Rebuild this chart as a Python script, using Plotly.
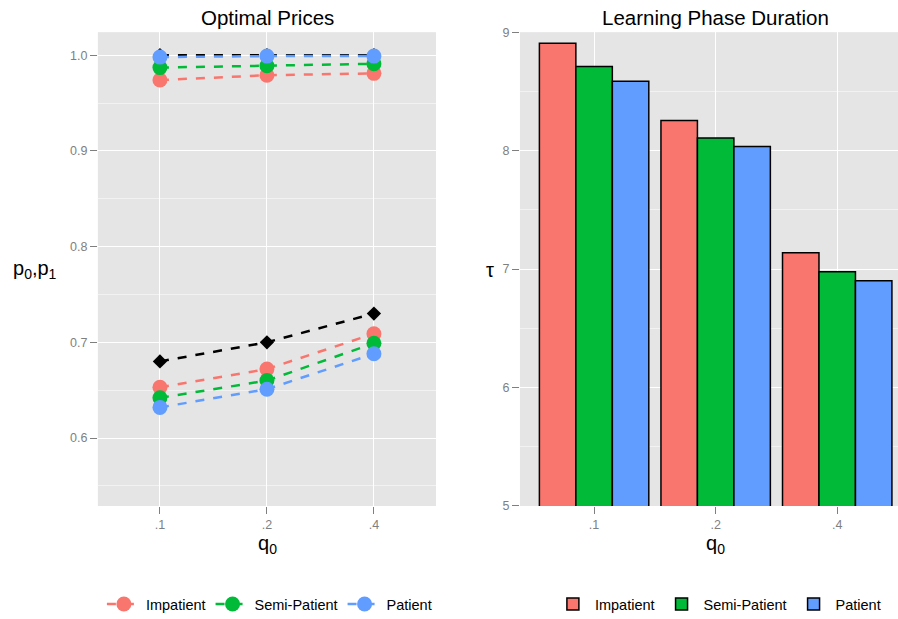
import plotly.graph_objects as go

categories = [".1", ".2", ".4"]
series = ["Impatient", "Semi-Patient", "Patient"]
colors = ["#F8766D", "#00BA38", "#619CFF"]

# Optimal prices (p1 high, p0 low)
p_high = {
    "Impatient": [0.974, 0.979, 0.981],
    "Semi-Patient": [0.987, 0.989, 0.991],
    "Patient": [0.998, 0.999, 0.999],
}
p_low = {
    "Impatient": [0.653, 0.672, 0.709],
    "Semi-Patient": [0.642, 0.660, 0.699],
    "Patient": [0.632, 0.651, 0.688],
}
benchmark_high = [1.0, 1.0, 1.0]
benchmark_low = [0.680, 0.700, 0.730]

# Learning phase duration tau
tau = {
    "Impatient": [8.907, 8.254, 7.138],
    "Semi-Patient": [8.710, 8.107, 6.977],
    "Patient": [8.586, 8.034, 6.901],
}

xpos = list(range(len(categories)))
fig = go.Figure()

# Benchmark black lines
for vals in (benchmark_high, benchmark_low):
    fig.add_trace(go.Scatter(
        x=xpos, y=vals, mode="lines+markers",
        line=dict(color="black", width=2.5, dash="9px,9px"),
        marker=dict(symbol="diamond", size=11, color="black"),
        showlegend=False, xaxis="x", yaxis="y", hoverinfo="skip"))

for s, c in zip(series, colors):
    for i, d in enumerate((p_high, p_low)):
        fig.add_trace(go.Scatter(
            x=xpos, y=d[s], mode="lines+markers", name=s,
            line=dict(color=c, width=2.5, dash="9px,9px"),
            marker=dict(symbol="circle", size=15, color=c),
            showlegend=(i == 0), legendgroup=s, legend="legend",
            xaxis="x", yaxis="y"))

for s, c in zip(series, colors):
    fig.add_trace(go.Bar(
        x=xpos, y=tau[s], name=s,
        marker=dict(color=c, line=dict(color="black", width=1.5)),
        legend="legend2", xaxis="x2", yaxis="y2"))

tickfont = dict(family="Liberation Sans, Arial", size=12.5, color="#7f7f7f")
common_axis = dict(
    showgrid=True, gridcolor="white", gridwidth=1.3, zeroline=False,
    ticks="outside", ticklen=7, tickcolor="#7f7f7f", tickwidth=1,
    tickfont=tickfont, showline=False, automargin=False,
)

fig.update_layout(
    width=898, height=619,
    margin=dict(l=0, r=0, t=0, b=0, autoexpand=False),
    paper_bgcolor="white", plot_bgcolor="#e5e5e5",
    font=dict(family="Liberation Sans, Arial", color="black"),
    barmode="group", bargap=0.1, bargroupgap=0,
    xaxis=dict(domain=[0.109, 0.4855], range=[-0.58, 2.58],
               tickvals=xpos, ticktext=categories, anchor="y", **common_axis),
    yaxis=dict(domain=[0.1826, 0.948], range=[0.529, 1.024],
               tickvals=[0.6, 0.7, 0.8, 0.9, 1.0],
               ticktext=["0.6", "0.7", "0.8", "0.9", "1.0"],
               minor=dict(tickvals=[0.55, 0.65, 0.75, 0.85, 0.95],
                          showgrid=True, gridcolor="#f2f2f2", gridwidth=0.6, ticks=""),
               anchor="x", **common_axis),
    xaxis2=dict(domain=[0.579, 1.0], range=[-0.61, 2.5],
                tickvals=xpos, ticktext=categories, anchor="y2", **common_axis),
    yaxis2=dict(domain=[0.1826, 0.948], range=[5, 9],
                tickvals=[5, 6, 7, 8, 9],
                minor=dict(tickvals=[5.5, 6.5, 7.5, 8.5],
                           showgrid=True, gridcolor="#f2f2f2", gridwidth=0.6, ticks=""),
                anchor="x2", **common_axis),
    legend=dict(orientation="h", x=0.30, y=0.024, xanchor="center", yanchor="middle",
                font=dict(size=14.5, color="black"), bgcolor="rgba(0,0,0,0)",
                itemwidth=34, tracegroupgap=0),
    legend2=dict(orientation="h", x=0.80, y=0.024, xanchor="center", yanchor="middle",
                 font=dict(size=14.5, color="black"), bgcolor="rgba(0,0,0,0)",
                 itemwidth=34),
    annotations=[
        dict(text="Optimal Prices", x=0.2975, y=0.971, xref="paper", yref="paper",
             showarrow=False, font=dict(size=20.5), xanchor="center", yanchor="middle"),
        dict(text="Learning Phase Duration", x=0.797, y=0.971, xref="paper", yref="paper",
             showarrow=False, font=dict(size=20.5), xanchor="center", yanchor="middle"),
        dict(text="p<sub>0</sub>,p<sub>1</sub>", x=0.039, y=0.564, xref="paper", yref="paper",
             showarrow=False, font=dict(size=20), xanchor="center", yanchor="middle"),
        dict(text="τ", x=0.5457, y=0.564, xref="paper", yref="paper",
             showarrow=False, font=dict(size=20), xanchor="center", yanchor="middle"),
        dict(text="q<sub>0</sub>", x=0.2975, y=0.12, xref="paper", yref="paper",
             showarrow=False, font=dict(size=20), xanchor="center", yanchor="middle"),
        dict(text="q<sub>0</sub>", x=0.797, y=0.12, xref="paper", yref="paper",
             showarrow=False, font=dict(size=20), xanchor="center", yanchor="middle"),
    ],
)

fig.write_html("out.html", config={"displayModeBar": False},
               post_script="document.body.style.margin='0';document.body.style.overflow='hidden';")
